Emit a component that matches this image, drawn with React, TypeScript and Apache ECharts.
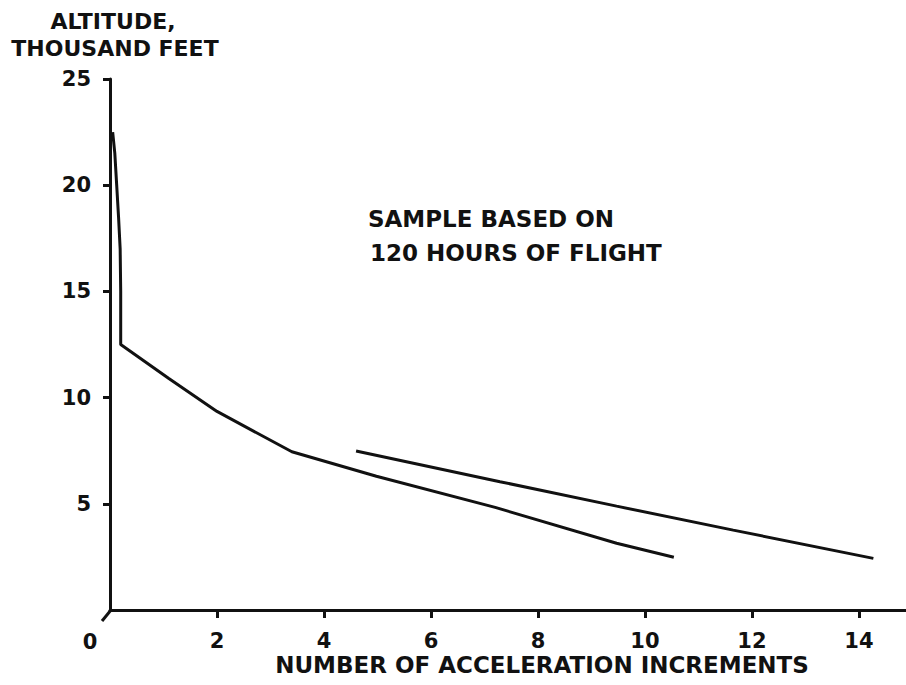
import React, { useEffect, useRef } from "react";
import * as echarts from "echarts";

const lowerCurve: [number, number][] = [
  [0.05, 22.5], [0.09, 21.5], [0.125, 20], [0.16, 18.5], [0.19, 17], [0.2, 15],
  [0.2, 12.5], [1.1, 10.9], [2.0, 9.35], [3.4, 7.45], [4.98, 6.3], [7.2, 4.83],
  [9.47, 3.14], [10.54, 2.48],
];
const upperCurve: [number, number][] = [
  [4.6, 7.49], [7.29, 6.04], [9.47, 4.89], [11.65, 3.76], [14.27, 2.43],
];
const xTicks = { min: 0, max: 14.88, interval: 2 };
const yTicks = { min: 0, max: 25, interval: 5 };
const yTitle = ["ALTITUDE,", "THOUSAND FEET"];
const xTitle = "NUMBER OF ACCELERATION INCREMENTS";
const note = ["SAMPLE BASED ON", "120 HOURS OF FLIGHT"];

const INK = "#111";
const FONT = '"DejaVu Sans", sans-serif';

export default function App() {
  const ref = useRef<HTMLDivElement>(null);
  useEffect(() => {
    if (!ref.current) return;
    const chart = echarts.init(ref.current, null, { renderer: "svg" });
    const txt = (text: string, x: number, y: number, size: number, align = "center") => ({
      type: "text",
      x,
      y,
      style: {
        text,
        fill: INK,
        font: `bold ${size}px ${FONT}`,
        textAlign: align,
        textVerticalAlign: "middle",
      },
    });
    chart.setOption({
      animation: false,
      backgroundColor: "#fff",
      grid: { left: 110, right: 0, top: 79, bottom: 75, containLabel: false },
      xAxis: {
        type: "value",
        min: xTicks.min,
        max: xTicks.max,
        interval: xTicks.interval,
        axisLine: { show: true, lineStyle: { color: INK, width: 3 } },
        axisTick: { show: true, length: 8, lineStyle: { color: INK, width: 3 } },
        axisLabel: {
          color: INK,
          fontFamily: FONT,
          fontWeight: "bold",
          fontSize: 21,
          margin: 20,
          showMinLabel: false,
          showMaxLabel: false,
          formatter: (v: number) => (v % 2 === 0 ? String(v) : ""),
        },
        splitLine: { show: false },
      },
      yAxis: {
        type: "value",
        min: yTicks.min,
        max: yTicks.max,
        interval: yTicks.interval,
        axisLine: { show: true, lineStyle: { color: INK, width: 3 } },
        axisTick: { show: true, length: 7, lineStyle: { color: INK, width: 3 } },
        axisLabel: {
          color: INK,
          fontFamily: FONT,
          fontWeight: "bold",
          fontSize: 21,
          margin: 19,
          showMinLabel: false,
        },
        splitLine: { show: false },
      },
      series: [
        {
          type: "line",
          data: lowerCurve,
          symbol: "none",
          lineStyle: { color: INK, width: 3 },
        },
        {
          type: "line",
          data: upperCurve,
          symbol: "none",
          lineStyle: { color: INK, width: 3 },
        },
      ],
      graphic: [
        txt(yTitle[0], 113, 21, 22),
        txt(yTitle[1], 115, 48, 22),
        txt(xTitle, 542, 665, 23),
        txt(note[0], 368, 219, 23, "left"),
        txt(note[1], 370, 253, 23, "left"),
        txt("0", 90, 642, 21),
        {
          type: "line",
          shape: { x1: 111, y1: 610, x2: 102, y2: 621 },
          style: { stroke: INK, lineWidth: 3 },
        },
      ],
    });
    return () => chart.dispose();
  }, []);
  return (
    <div
      ref={ref}
      style={{ position: "fixed", left: 0, top: 0, width: 906, height: 685 }}
    />
  );
}
